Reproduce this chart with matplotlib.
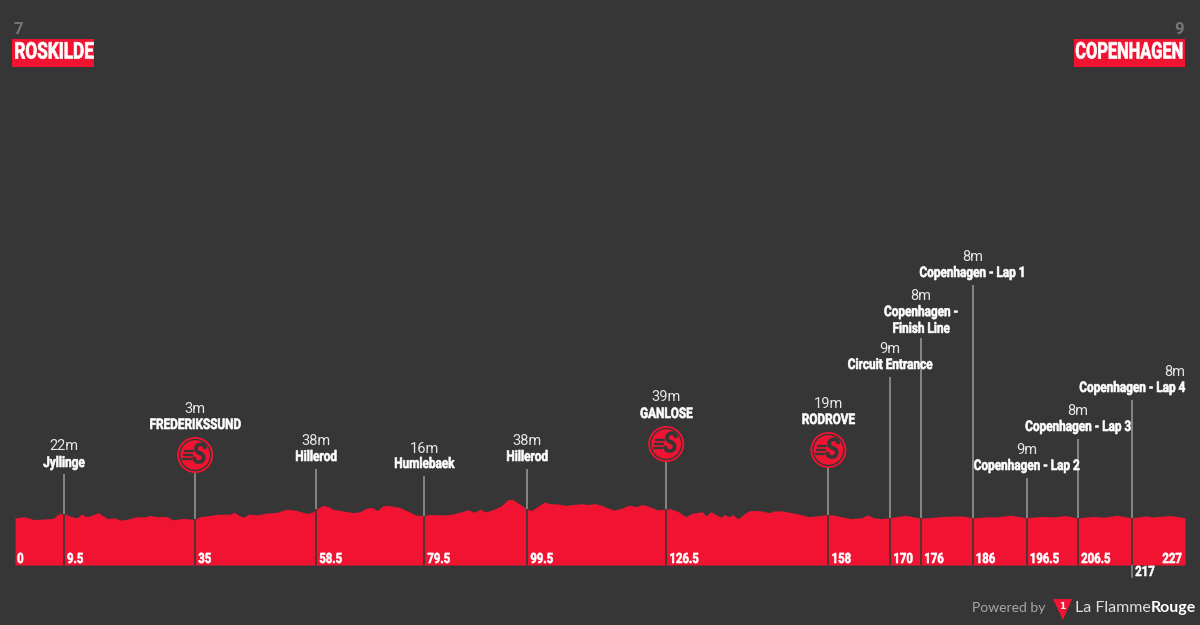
#!/usr/bin/env python3

import matplotlib
matplotlib.use("Agg")
import matplotlib.pyplot as plt
from matplotlib.patches import Circle, Polygon, Rectangle
from matplotlib.patheffects import AbstractPathEffect
from matplotlib.transforms import Affine2D

# route profile, km and metres
route_km = [0, 1.9, 2.9, 3.6, 5.5, 7.4, 8.6, 9.5, 10.2, 11, 12, 13, 13.8, 14.9, 16.2, 17.1, 18, 19.4, 20.5,
            22, 23.3, 25.6, 26, 27.5, 29.4, 30.7, 32.4, 35, 35.9, 37.4, 39.1, 42, 42.5, 43.6, 44.4, 45.4,
            46.9, 48.8, 50.8, 52.8, 54.6, 56.6, 57.6, 58.5, 59.8, 60.8, 61.7, 63.7, 65.6, 67, 68.3, 69.3,
            70.4, 71.4, 72.4, 74.7, 76.6, 77.9, 79.5, 80.5, 83, 85, 86.7, 88, 89.2, 90.4, 91.4, 93.1, 94.4,
            95.7, 96.6, 98, 99.5, 100.3, 101.5, 102.9, 103.8, 105.4, 107, 110, 111.2, 112.9, 114.2, 116.2,
            117.7, 119.3, 120.6, 121.9, 123.2, 124.8, 126.5, 127.4, 129, 130.3, 131.6, 133.5, 134.2, 135.2,
            137.1, 137.8, 138.7, 139.4, 140.4, 142.6, 144.6, 146.5, 147.5, 149, 152.3, 154.2, 157.5, 158,
            158.8, 160.5, 162.3, 164.5, 165.5, 166.9, 168.4, 170, 171.3, 173, 175.2, 176, 177.2, 179.6,
            183.4, 184.6, 186, 189.2, 190.5, 193.4, 196.5, 199.8, 202, 204, 206.5, 209.5, 211.5, 214, 217,
            219.8, 220.8, 224.4, 226, 227.3]
route_elev = [8, 12, 6, 2, 4, 6, 23, 22, 18, 12, 8, 21, 12, 17, 26, 15, 5, 8, 0,
              4, 11, 12, 17, 12, 13, 1, 6, 3, 12, 15, 20, 21, 28, 16, 10, 21,
              18, 24, 27, 38, 34, 24, 26, 38, 51, 47, 38, 32, 26, 29, 42, 44,
              33, 49, 51, 44, 29, 17, 16, 20, 18, 21, 29, 36, 27, 38, 28, 38, 49,
              70, 72, 56, 38, 33, 47, 63, 57, 56, 51, 57, 54, 57, 49, 35,
              40, 52, 47, 54, 47, 35, 39, 39, 28, 12, 24, 29, 15, 29,
              10, 19, 12, 19, 5, 33, 33, 26, 32, 32, 21, 12, 18, 19,
              18, 12, 5, 9, 18, 8, 5, 9, 12, 17, 9, 8, 8, 12,
              15, 13, 8, 12, 11, 17, 9, 13, 11, 16, 8, 13, 10, 17, 8,
              15, 11, 16, 12, 8]

stop_km = [9.5, 35, 58.5, 79.5, 99.5, 126.5, 158, 170, 176, 186, 196.5, 206.5, 217]
stop_km_text = ["9.5", "35", "58.5", "79.5", "99.5", "126.5", "158", "170", "176", "186", "196.5", "206.5", "217"]
stop_elev = [22, 3, 38, 16, 38, 39, 19, 9, 8, 8, 9, 8, 8]
stop_names = ["Jyllinge", "FREDERIKSSUND", "Hillerod", "Humlebaek", "Hillerod", "GANLOSE", "RODROVE",
              "Circuit Entrance", "Copenhagen -\nFinish Line", "Copenhagen - Lap 1",
              "Copenhagen - Lap 2", "Copenhagen - Lap 3", "Copenhagen - Lap 4"]

# layout in image pixels, one entry per stop
stem_tops = [474, 473, 469, 476, 469, 462, 468, 377, 338, 285, 478, 439, 400]
elev_text_y = [446, 409, 441, 449, 441, 397, 404, 349, 296, 257, 450, 411, 372]
name_text_y = [463, 425, 457, 464, 457, 414, 420, 365, 320.5, 273, 466, 427, 388]
icon_y = {"FREDERIKSSUND": 455, "GANLOSE": 444, "RODROVE": 450}

BG = "#363636"
RED = "#f01432"
STEM = "#8c8c8c"
HEAVY = "Roboto"
THIN = "Roboto"


class Condensed(AbstractPathEffect):
    """Squeezes glyph outlines sideways and thickens them a little."""

    def __init__(self, sx, align=0.5, stroke=0.45):
        super().__init__()
        self.sx = sx
        self.align = align
        self.stroke = stroke

    def draw_path(self, renderer, gc, tpath, affine, rgbFace=None):
        ext = tpath.get_extents()
        anchor = ext.x0 + self.align * ext.width
        squeeze = Affine2D().translate(-anchor, 0).scale(self.sx, 1).translate(anchor, 0)
        gc0 = renderer.new_gc()
        gc0.copy_properties(gc)
        gc0.set_foreground(rgbFace)
        gc0.set_linewidth(self.stroke)
        renderer.draw_path(gc0, tpath, squeeze + affine, rgbFace)
        gc0.restore()


def km2px(k):
    return 15 + k * 5.148


def px2m(p):
    return 3 + (519.3 - p) / 0.29


def px2km(p):
    return (p - 15) / 5.148


ALIGN = {"left": 0, "center": 0.5, "right": 1}

fig = plt.figure(figsize=(12, 6.25), dpi=100, facecolor=BG)
ax = fig.add_axes([0, 0, 1, 1])
ax.set_xlim(px2km(0), px2km(1200))
ax.set_ylim(px2m(625), px2m(0))
ax.axis("off")

base = px2m(565)
ax.fill_between(route_km, route_elev, base, color=RED, lw=0, zorder=2)

# stems: grey over the profile, cut in background colour through the red
ax.vlines(stop_km, [px2m(p) for p in stem_tops], stop_elev, color=STEM, lw=1.3, zorder=3)
ax.vlines(stop_km, base, stop_elev, color=BG, lw=1.2, zorder=3)
ax.vlines(217, px2m(578), base, color=STEM, lw=1.1, zorder=3)


def bold_text(x_px, y_px, s, size=10.6, ha="center", sx=0.8, color="white", **kw):
    t = ax.text(px2km(x_px), px2m(y_px), s, color=color, fontsize=size, fontweight="bold", family=HEAVY,
                ha=ha, va="center", zorder=6, **kw)
    t.set_path_effects([Condensed(sx, ALIGN[ha])])
    return t


for km, elev, name, et, nt in zip(stop_km, stop_elev, stop_names, elev_text_y, name_text_y):
    x = km2px(km)
    if name.endswith("Lap 4"):
        ax.text(px2km(1185), px2m(et), f"{elev}m", color="#e6e6e6", fontsize=10.5, family=THIN,
                ha="right", va="center", zorder=6)
        bold_text(1185, nt, name, ha="right")
    else:
        ax.text(km, px2m(et), f"{elev}m", color="#e6e6e6", fontsize=10.5, family=THIN,
                ha="center", va="center", zorder=6)
        bold_text(x, nt, name, linespacing=1.25)

# km markers inside the profile
bold_text(17, 559, "0", ha="left", size=10.2)
for km, txt in zip(stop_km, stop_km_text):
    if txt == "217":
        bold_text(km2px(km) + 3, 572, txt, ha="left", size=10.2)
    else:
        bold_text(km2px(km) + 3, 559, txt, ha="left", size=10.2)
bold_text(1182, 559, "227", ha="right", size=10.2)

over = fig.add_axes([0, 0, 1, 1], zorder=8)
over.set_xlim(0, 1200)
over.set_ylim(625, 0)
over.axis("off")
over.patch.set_alpha(0)

# intermediate sprint badges
for name, y in icon_y.items():
    x = km2px(stop_km[stop_names.index(name)])
    over.add_patch(Circle((x, y), 18, fc=RED, ec="none"))
    over.add_patch(Circle((x, y), 15.5, fc=RED, ec=BG, lw=1.0))
    for dy, x0 in ((-4, -10), (0, -11), (4, -12)):
        over.plot([x + x0, x + x0 + 8], [y + dy, y + dy], color=BG, lw=1.7, solid_capstyle="round")
    s = over.text(x + 4, y + 0.5, "S", color=BG, fontsize=21, fontweight="bold", style="italic", family=HEAVY,
                  ha="center", va="center")
    s.set_path_effects([Condensed(0.85, 0.5, 0.2)])

# start and finish headers
over.add_patch(Rectangle((12, 39), 82, 28, fc=RED, ec="none"))
over.add_patch(Rectangle((1074, 39), 111, 28, fc=RED, ec="none"))
for x, ha, s, sx in ((14, "left", "ROSKILDE", 0.75), (1184, "right", "COPENHAGEN", 0.715)):
    t = over.text(x, 52, s, color="white", fontsize=16.5, fontweight="bold", family=HEAVY, ha=ha, va="center")
    t.set_path_effects([Condensed(sx, ALIGN[ha], 0.5)])
over.text(14, 29, "7", color="#777777", fontsize=12, fontweight="bold", family=HEAVY, ha="left", va="center")
over.text(1184, 29, "9", color="#777777", fontsize=12, fontweight="bold", family=HEAVY, ha="right", va="center")

# footer credit
over.text(972, 608, "Powered by", color="#a8a8a8", fontsize=10, family="Lato", ha="left", va="center")
over.add_patch(Polygon([(1053, 599), (1072, 599), (1063, 620)], fc=RED, ec="none"))
over.text(1062.5, 606.5, "1", color="white", fontsize=6.5, fontweight="bold", ha="center", va="center")
t = over.text(1075, 608, "La Flamme", color="#e0e0e0", fontsize=11.5, family="Lato", ha="left", va="center")
fig.canvas.draw()
bb = t.get_window_extent()
over.text(bb.x1 * 1200 / fig.bbox.width, 608, "Rouge", color="white", fontsize=11.5, fontweight="bold",
          family="Lato", ha="left", va="center")

fig.savefig("out.png", dpi=100, facecolor=BG)
